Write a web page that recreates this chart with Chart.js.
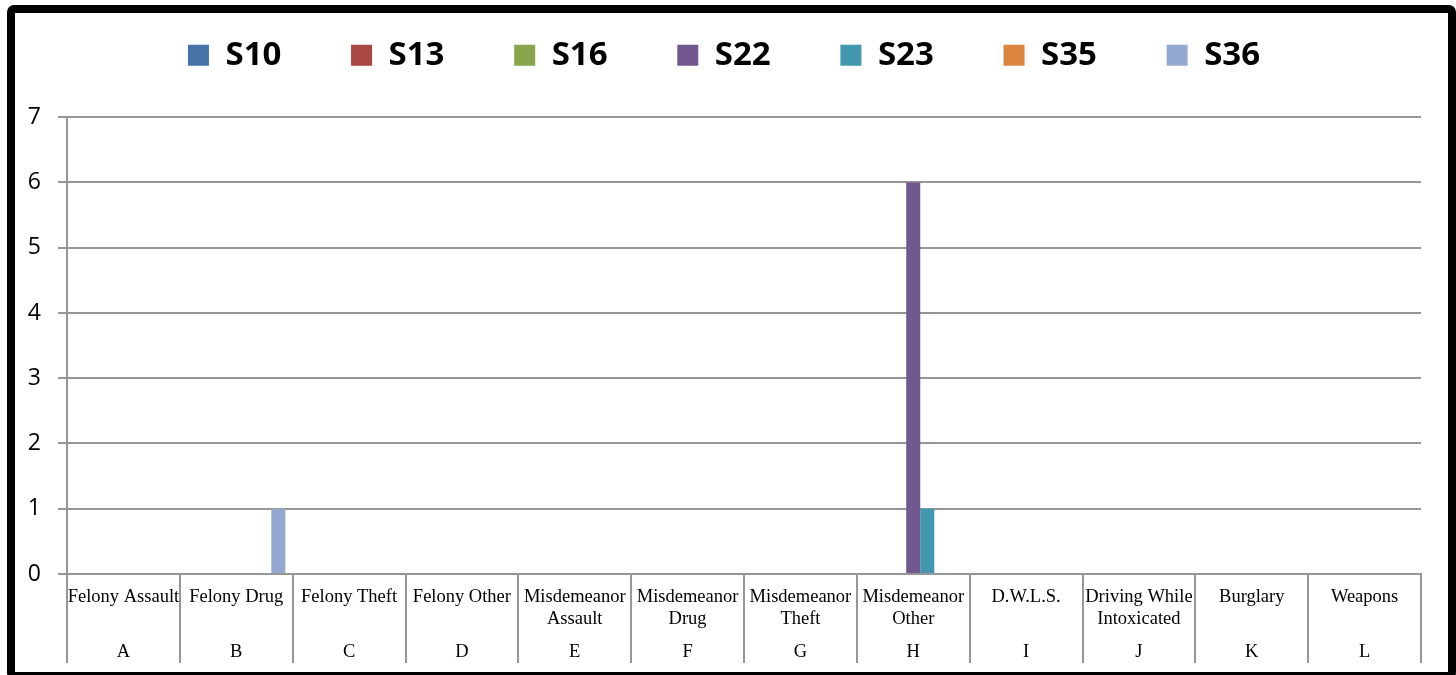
<!DOCTYPE html>
<html>
<head>
<meta charset="utf-8">
<script src="https://cdn.jsdelivr.net/npm/chart.js@4/dist/chart.umd.min.js"></script>
<style>
  html, body { margin: 0; padding: 0; background: #fff; }
  #wrap { position: relative; width: 1456px; height: 675px; overflow: hidden; }
  #chart { position: absolute; left: 0; top: 0; }
  #frame {
    position: absolute; left: 7px; top: 5px;
    width: 1433px; height: 659px;
    border: 8px solid #000; border-radius: 7px;
    pointer-events: none;
  }
</style>
</head>
<body>
<div id="wrap">
  <canvas id="chart" width="1456" height="675"></canvas>
  <div id="frame"></div>
</div>
<script>
// category names (one entry per line) and the letter row under them
const categoryNames = [
  ["Felony Assault"],
  ["Felony Drug"],
  ["Felony Theft"],
  ["Felony Other"],
  ["Misdemeanor", "Assault"],
  ["Misdemeanor", "Drug"],
  ["Misdemeanor", "Theft"],
  ["Misdemeanor", "Other"],
  ["D.W.L.S."],
  ["Driving While", "Intoxicated"],
  ["Burglary"],
  ["Weapons"],
];
const categoryLetters = ["A", "B", "C", "D", "E", "F", "G", "H", "I", "J", "K", "L"];

const seriesNames = ["S10", "S13", "S16", "S22", "S23", "S35", "S36"];
const seriesColors = ["#4572A7", "#AA4643", "#89A54E", "#71588F", "#4198AF", "#DB843D", "#93A9CF"];

const s10 = [0, 0, 0, 0, 0, 0, 0, 0, 0, 0, 0, 0];
const s13 = [0, 0, 0, 0, 0, 0, 0, 0, 0, 0, 0, 0];
const s16 = [0, 0, 0, 0, 0, 0, 0, 0, 0, 0, 0, 0];
const s22 = [0, 0, 0, 0, 0, 0, 0, 6, 0, 0, 0, 0];
const s23 = [0, 0, 0, 0, 0, 0, 0, 1, 0, 0, 0, 0];
const s35 = [0, 0, 0, 0, 0, 0, 0, 0, 0, 0, 0, 0];
const s36 = [0, 1, 0, 0, 0, 0, 0, 0, 0, 0, 0, 0];
const seriesValues = [s10, s13, s16, s22, s23, s35, s36];

const yTicks = [0, 1, 2, 3, 4, 5, 6, 7];

const gridGray = "#969696";

// labels use 11px lines: name line 1, gap, name line 2, gap, gap, letter
const xLabels = categoryNames.map((lines, i) => [
  lines[0], "", lines[1] || "", "", "", categoryLetters[i],
]);

// push the plot area down under the legend
const legendGap = {
  id: "legendGap",
  beforeInit(chart) {
    const fit = chart.legend.fit;
    chart.legend.fit = function () {
      fit.call(this);
      this.height += 35.5;
    };
  },
};

new Chart(document.getElementById("chart"), {
  type: "bar",
  data: {
    labels: xLabels,
    datasets: seriesNames.map((name, i) => ({
      label: name,
      data: seriesValues[i],
      backgroundColor: seriesColors[i],
      borderWidth: 0,
      categoryPercentage: 0.87,
      barPercentage: 1,
    })),
  },
  options: {
    responsive: false,
    animation: false,
    layout: { padding: { top: -31, left: 27, right: 35, bottom: 6 } },
    plugins: {
      tooltip: { enabled: false },
      legend: {
        position: "top",
        labels: {
          boxWidth: 21,
          boxHeight: 21,
          padding: 69.7,
          color: "#000",
          font: { family: "'Open Sans', sans-serif", size: 33, weight: "bold" },
        },
      },
    },
    scales: {
      x: {
        afterFit(scale) {
          scale.height = 95;
        },
        grid: {
          offset: true,
          drawOnChartArea: false,
          tickLength: 89,
          color: gridGray,
          lineWidth: 2,
        },
        border: { display: true, color: gridGray, width: 2 },
        ticks: {
          autoSkip: false,
          maxRotation: 0,
          minRotation: 0,
          padding: -71.5,
          color: "#000",
          font: { family: "'Liberation Serif', 'Times New Roman', serif", size: 18.5, lineHeight: "11px" },
        },
      },
      y: {
        min: 0,
        max: 7,
        afterBuildTicks(scale) {
          scale.ticks = yTicks.map((v) => ({ value: v }));
        },
        afterFit(scale) {
          scale.width = 40;
        },
        grid: { color: gridGray, lineWidth: 2, tickLength: 9 },
        border: { display: true, color: gridGray, width: 2 },
        ticks: {
          padding: 17,
          color: "#000",
          font: { family: "'Open Sans', sans-serif", size: 23 },
        },
      },
    },
  },
  plugins: [legendGap],
});
</script>
</body>
</html>
